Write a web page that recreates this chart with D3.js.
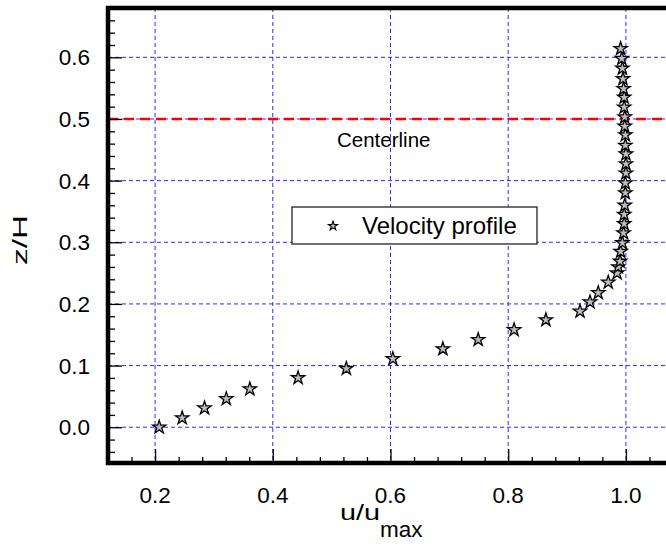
<!DOCTYPE html>
<html>
<head>
<meta charset="utf-8">
<script src="https://cdn.jsdelivr.net/npm/d3@7"></script>
<style>
  body { margin: 0; background: #fff; }
  svg text { font-family: "Liberation Sans", Arial, sans-serif; }
</style>
</head>
<body>
<script>
// velocity profile
const uVals = [0.207, 0.246, 0.284, 0.321, 0.361, 0.443, 0.525, 0.604, 0.689, 0.749,
  0.810, 0.864, 0.922, 0.939, 0.953, 0.970, 0.985, 0.987, 0.990, 0.991,
  0.994, 0.996, 0.997, 0.997, 0.998, 0.999, 0.999, 1.000, 1.000, 1.000,
  0.999, 0.999, 0.998, 0.998, 0.997, 0.997, 0.996, 0.995, 0.994, 0.993, 0.991];
const zVals = [0.000, 0.015, 0.031, 0.046, 0.062, 0.080, 0.095, 0.111, 0.127, 0.142,
  0.158, 0.174, 0.188, 0.203, 0.218, 0.235, 0.250, 0.260, 0.269, 0.285,
  0.299, 0.315, 0.330, 0.345, 0.360, 0.380, 0.396, 0.412, 0.427, 0.443,
  0.457, 0.474, 0.488, 0.503, 0.519, 0.535, 0.549, 0.565, 0.582, 0.598, 0.614];
const xTicks = [0.2, 0.4, 0.6, 0.8, 1.0];
const yTicks = [0.0, 0.1, 0.2, 0.3, 0.4, 0.5, 0.6];
const centerline = 0.5;

const W = 666, H = 545;
const padL = 108, padT = 8, padB = 463;

const svg = d3.select("body").append("svg").attr("width", W).attr("height", H);

const x = d3.scaleLinear().domain([0.12, 1.08]).range([padL, 673]);
const y = d3.scaleLinear().domain([-0.058, 0.68]).range([padB, padT]);
const fmt = d3.format(".1f");

const xMinor = d3.range(0.16, 1.08, 0.04).filter(v => xTicks.every(t => Math.abs(t - v) > 1e-6));
const yMinor = d3.range(-0.04, 0.68, 0.02).filter(v => yTicks.every(t => Math.abs(t - v) > 1e-6));

// grid
const grid = svg.append("g").attr("stroke", "#2a2aff").attr("stroke-width", 1).attr("stroke-dasharray", "4,3");
grid.selectAll(".gx").data(xTicks).enter().append("line")
  .attr("x1", d => x(d)).attr("x2", d => x(d)).attr("y1", padT).attr("y2", padB);
grid.selectAll(".gy").data(yTicks).enter().append("line")
  .attr("x1", padL).attr("x2", W).attr("y1", d => y(d)).attr("y2", d => y(d));

// centerline
svg.append("line")
  .attr("x1", padL).attr("x2", W).attr("y1", y(centerline)).attr("y2", y(centerline))
  .attr("stroke", "#ff0000").attr("stroke-width", 2.5).attr("stroke-dasharray", "10,6");

svg.append("text").attr("x", 337).attr("y", 147).attr("font-size", 20.5).text("Centerline");

// tick marks (pointing inward)
const gx = svg.append("g").attr("transform", `translate(0,${padB})`)
  .call(d3.axisBottom(x).tickValues(xTicks).tickFormat("").tickSize(-14));
const gxm = svg.append("g").attr("transform", `translate(0,${padB})`)
  .call(d3.axisBottom(x).tickValues(xMinor).tickFormat("").tickSize(-6));
const gy = svg.append("g").attr("transform", `translate(${padL},0)`)
  .call(d3.axisLeft(y).tickValues(yTicks).tickFormat("").tickSize(-14));
const gym = svg.append("g").attr("transform", `translate(${padL},0)`)
  .call(d3.axisLeft(y).tickValues(yMinor).tickFormat("").tickSize(-7));

[gx, gxm, gy, gym].forEach(g => {
  g.select(".domain").remove();
  g.selectAll("text").remove();
  g.selectAll("line").attr("stroke", "#000").attr("stroke-width", 1.3);
});

// tick labels
svg.append("g").selectAll("text").data(xTicks).enter().append("text")
  .attr("x", d => x(d)).attr("y", 503).attr("text-anchor", "middle")
  .attr("font-size", 22.5).text(fmt);
svg.append("g").selectAll("text").data(yTicks).enter().append("text")
  .attr("x", 90).attr("y", d => y(d) + 8).attr("text-anchor", "end")
  .attr("font-size", 22.5).text(fmt);

// frame
svg.append("path")
  .attr("d", `M${x(1.08) + 10},${padT} H${padL} V${padB} H${x(1.08) + 10}`)
  .attr("fill", "none").attr("stroke", "#000").attr("stroke-width", 4.5);

// data
const pts = uVals.map((u, i) => ({ u: u, z: zVals[i] }));
const star = d3.symbol().type(d3.symbolStar).size(55);
svg.append("g").selectAll("path").data(pts).enter().append("path")
  .attr("d", star)
  .attr("transform", d => `translate(${x(d.u)},${y(d.z)})`)
  .attr("fill", "#bdbdbd").attr("stroke", "#000").attr("stroke-width", 1.3);

// legend
const lg = svg.append("g");
lg.append("rect").attr("x", 292).attr("y", 207).attr("width", 245).attr("height", 37)
  .attr("fill", "#fff").attr("stroke", "#222").attr("stroke-width", 1.3);
lg.append("path").attr("d", d3.symbol().type(d3.symbolStar).size(26))
  .attr("transform", "translate(333,226)")
  .attr("fill", "#bdbdbd").attr("stroke", "#000").attr("stroke-width", 1.1);
lg.append("text").attr("x", 362).attr("y", 234).attr("font-size", 24).text("Velocity profile");

// axis titles
const xt = svg.append("text").attr("x", 340).attr("y", 520).attr("font-size", 22.5);
xt.append("tspan").attr("textLength", 40).attr("lengthAdjust", "spacingAndGlyphs").text("u/u");
xt.append("tspan").attr("dy", 17).text("max");

svg.append("text")
  .attr("transform", "translate(27,265) rotate(-90)")
  .attr("font-size", 20).attr("textLength", 50).attr("lengthAdjust", "spacingAndGlyphs")
  .text("z/H");
</script>
</body>
</html>
